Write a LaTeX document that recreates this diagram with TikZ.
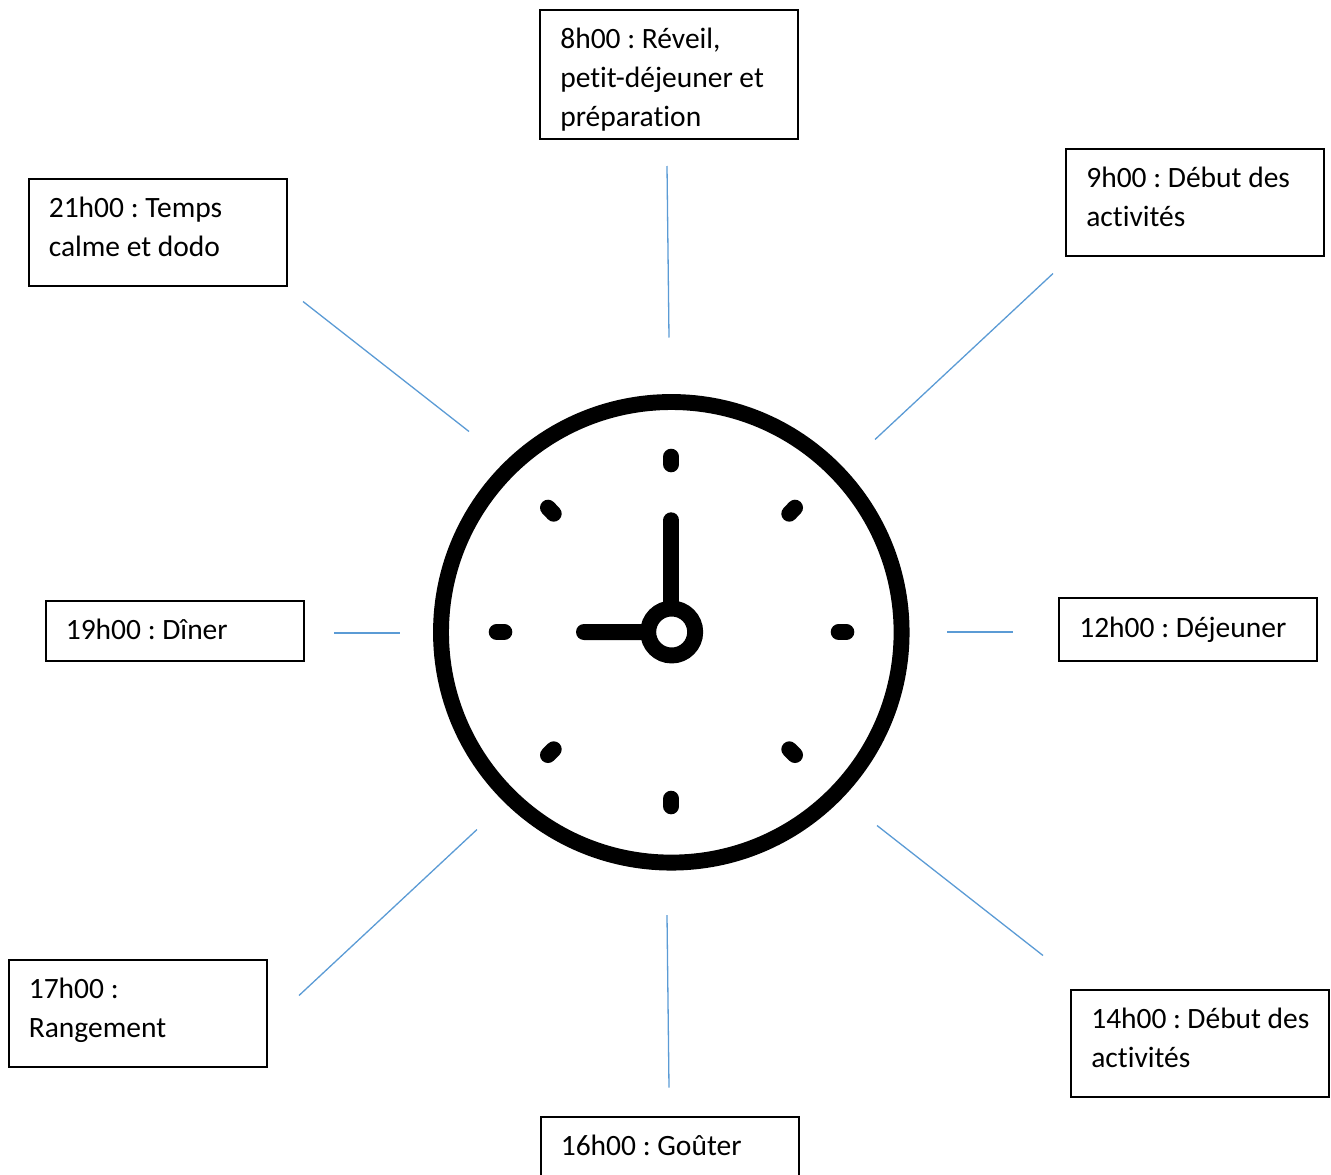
\documentclass[tikz,border=0pt]{standalone}
\usepackage{fontspec}
\setmainfont[Ligatures=NoCommon]{Carlito}
\newcommand{\boxtxt}[4][38]{\parbox[c][#2pt][t]{#3pt}{\frenchspacing\fontsize{29.5}{39}\selectfont\rule{0pt}{#1pt}#4}}
\tikzset{
  x=1pt,y=-1pt,
  hourbox/.style={draw=black,line width=2pt,anchor=north west,inner xsep=20pt,inner ysep=0pt,outer sep=0pt,fill=white},
  spoke/.style={draw={rgb,255:red,91;green,155;blue,213},line width=1.3pt},
  clockline/.style={draw=black,line width=16pt,line cap=round},
  clockring/.style={draw=black,line width=15.9pt}
}
\begin{document}
\begin{tikzpicture}
\useasboundingbox (0,0) rectangle (1331,1175);
% boxes
\node[hourbox] (b8) at (540.3,10.2) {\boxtxt[38.5]{129}{218}{8h00 : Réveil,\\petit-déjeuner et\\préparation}};
\node[hourbox] (b9) at (1066.3,149.2) {\boxtxt{106.8}{218}{9h00 : Début des\\activités}};
\node[hourbox] (b21) at (28.8,179.2) {\boxtxt{106.8}{218}{21h00 : Temps\\calme et dodo}};
\node[hourbox] (b19) at (45.8,601.2) {\boxtxt{59.5}{218}{19h00 : Dîner}};
\node[hourbox] (b12) at (1059.3,598.4) {\boxtxt[39.5]{62.5}{218}{12h00 : Déjeuner}};
\node[hourbox] (b17) at (8.8,960.2) {\boxtxt{106.8}{218}{17h00 :\\Rangement}};
\node[hourbox] (b14) at (1071.3,990.2) {\boxtxt{106.8}{218}{14h00 : Début des\\activités}};
\node[hourbox] (b16) at (540.8,1117.2) {\boxtxt{70}{218}{16h00 : Goûter}};
% connector ends
\coordinate (s8a) at (667,166);   \coordinate (s8b) at (669,337.5);
\coordinate (s9a) at (1053,273.5);  \coordinate (s9b) at (875,439.5);
\coordinate (s21a) at (303,301.5);  \coordinate (s21b) at (469,431.5);
\coordinate (s19a) at (334,633);  \coordinate (s19b) at (400,633);
\coordinate (s12a) at (947,632);  \coordinate (s12b) at (1013,632);
\coordinate (s14a) at (877,825.5);  \coordinate (s14b) at (1043,955.5);
\coordinate (s16a) at (667,915);  \coordinate (s16b) at (669,1087.5);
\coordinate (s17a) at (477,829.5);  \coordinate (s17b) at (299,995.5);
\foreach \s in {8,9,21,19,12,14,16,17} \draw[spoke] (s\s a) -- (s\s b);
% clock
\coordinate (c) at (671.3,632.3);
\draw[clockring] (c) circle (230.3);
\draw[clockline] (671.3,456.7) -- (671.3,464.3);
\draw[clockline] (671.3,798.7) -- (671.3,806.3);
\draw[clockline] (496.7,632) -- (504.3,632);
\draw[clockline] (838.7,632) -- (846.3,632);
\draw[clockline] (548,507.7) -- (553.7,513.7);
\draw[clockline] (795,507.7) -- (789.3,513.7);
\draw[clockline] (548,755) -- (553.7,749.3);
\draw[clockline] (795,755) -- (789.3,749.3);
\draw[clockline] (671.3,520.3) -- (c);
\draw[clockline] (584,632) -- (c);
\draw[clockring,fill=white] (671.7,632) circle (23.5);
\end{tikzpicture}
\end{document}
